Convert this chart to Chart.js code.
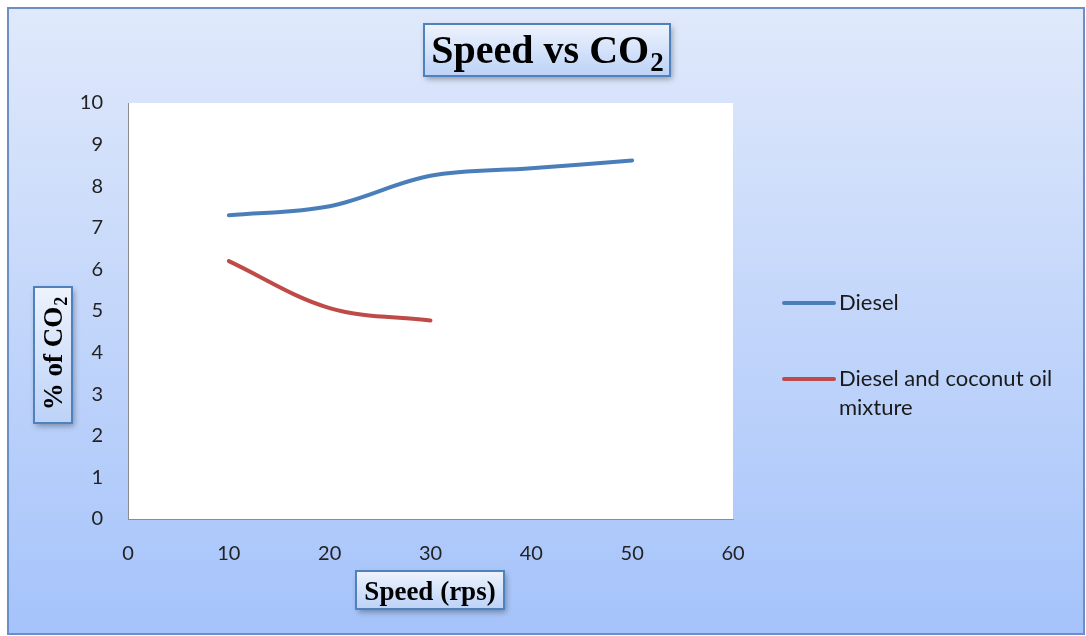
<!DOCTYPE html>
<html>
<head>
<meta charset="utf-8">
<script src="https://cdn.jsdelivr.net/npm/chart.js@4"></script>
<style>
  html, body { margin: 0; padding: 0; background: #ffffff; }
  #wrap { width: 1086px; height: 636px; }
</style>
</head>
<body>
<div id="wrap"><canvas id="c" width="1086" height="636"></canvas></div>
<script>
// Speed (rps) against % of CO2 in the exhaust
const dieselSpeed = [10, 20, 30, 40, 50];
const dieselCO2 = [7.3, 7.52, 8.25, 8.43, 8.62];
const blendSpeed = [10, 20, 30];
const blendCO2 = [6.2, 5.07, 4.77];
const seriesNames = ['Diesel', 'Diesel and coconut oil mixture'];
const xTicks = [0, 10, 20, 30, 40, 50, 60];
const yTicks = [0, 1, 2, 3, 4, 5, 6, 7, 8, 9, 10];

const toPoints = (xs, ys) => xs.map((x, i) => ({ x: x, y: ys[i] }));

const SERIF = '"Liberation Serif", "DejaVu Serif", serif';
const SANS = 'Lato, "Open Sans", "Liberation Sans", sans-serif';

function drawBox(ctx, x, y, w, h) {
  ctx.save();
  ctx.shadowColor = 'rgba(0,0,0,0.35)';
  ctx.shadowBlur = 6;
  ctx.shadowOffsetX = 2;
  ctx.shadowOffsetY = 3;
  const g = ctx.createLinearGradient(0, y, 0, y + h);
  g.addColorStop(0, '#eef3fd');
  g.addColorStop(1, '#bcd2f7');
  ctx.fillStyle = g;
  ctx.fillRect(x, y, w, h);
  ctx.restore();
  ctx.save();
  ctx.strokeStyle = '#4f81bd';
  ctx.lineWidth = 2;
  ctx.strokeRect(x, y, w, h);
  ctx.restore();
}

// text with a subscript "2", centred on (cx, cy)
function drawSubText(ctx, main, sub, cx, cy, size) {
  ctx.save();
  ctx.fillStyle = '#000';
  ctx.textBaseline = 'alphabetic';
  ctx.font = 'bold ' + size + 'px ' + SERIF;
  const wMain = ctx.measureText(main).width;
  const subSize = Math.round(size * 0.68);
  ctx.font = 'bold ' + subSize + 'px ' + SERIF;
  const wSub = ctx.measureText(sub).width;
  const x0 = cx - (wMain + wSub) / 2;
  const base = cy + size * 0.33;
  ctx.font = 'bold ' + size + 'px ' + SERIF;
  ctx.textAlign = 'left';
  ctx.fillText(main, x0, base);
  ctx.font = 'bold ' + subSize + 'px ' + SERIF;
  ctx.fillText(sub, x0 + wMain + 1, base + size * 0.2);
  ctx.restore();
}

const decor = {
  id: 'decor',
  beforeDraw(chart) {
    const ctx = chart.ctx;
    const W = chart.width, H = chart.height;
    ctx.save();
    ctx.fillStyle = '#ffffff';
    ctx.fillRect(0, 0, W, H);
    // chart area background
    const g = ctx.createLinearGradient(0, 8, 0, 634);
    g.addColorStop(0, '#e0e9fb');
    g.addColorStop(1, '#a5c3fa');
    ctx.fillStyle = g;
    ctx.fillRect(8, 8, 1076, 626);
    ctx.strokeStyle = '#6a8fc7';
    ctx.lineWidth = 2;
    ctx.strokeRect(8, 8, 1076, 626);
    // plot area
    const a = chart.chartArea;
    ctx.fillStyle = '#ffffff';
    ctx.fillRect(a.left, a.top, a.right - a.left, a.bottom - a.top);
    ctx.restore();
  },
  afterDraw(chart) {
    const ctx = chart.ctx;
    // title
    drawBox(ctx, 424, 24, 246, 52);
    drawSubText(ctx, 'Speed vs CO', '2', 547, 50, 40);
    // x axis title
    drawBox(ctx, 356, 571, 148, 38);
    ctx.save();
    ctx.fillStyle = '#000';
    ctx.font = 'bold 27px ' + SERIF;
    ctx.textAlign = 'center';
    ctx.textBaseline = 'alphabetic';
    ctx.fillText('Speed (rps)', 430, 600);
    ctx.restore();
    // y axis title
    drawBox(ctx, 34, 287, 38, 136);
    ctx.save();
    ctx.translate(53, 354);
    ctx.rotate(-Math.PI / 2);
    drawSubText(ctx, '% of CO', '2', 0, 0, 27);
    ctx.restore();
    // legend
    ctx.save();
    ctx.font = '22px ' + SANS;
    ctx.fillStyle = '#1a1a1a';
    ctx.textAlign = 'left';
    ctx.textBaseline = 'middle';
    ctx.lineCap = 'round';
    const items = [
      { y: 303, lines: [seriesNames[0]] },
      { y: 379, lines: ['Diesel and coconut oil', 'mixture'] }
    ];
    chart.data.datasets.forEach((ds, i) => {
      const it = items[i];
      ctx.strokeStyle = ds.borderColor;
      ctx.lineWidth = 4;
      ctx.beginPath();
      ctx.moveTo(784, it.y);
      ctx.lineTo(834, it.y);
      ctx.stroke();
      it.lines.forEach((t, j) => ctx.fillText(t, 839, it.y + j * 29));
    });
    ctx.restore();
  }
};

new Chart(document.getElementById('c'), {
  type: 'line',
  data: {
    datasets: [
      {
        label: seriesNames[0],
        data: toPoints(dieselSpeed, dieselCO2),
        borderColor: '#4a7ebb',
        borderWidth: 4,
        pointRadius: 0,
        tension: 0.35,
        fill: false,
        borderCapStyle: 'round'
      },
      {
        label: seriesNames[1],
        data: toPoints(blendSpeed, blendCO2),
        borderColor: '#be4b48',
        borderWidth: 4,
        pointRadius: 0,
        tension: 0.35,
        fill: false,
        borderCapStyle: 'round'
      }
    ]
  },
  options: {
    responsive: false,
    animation: false,
    devicePixelRatio: 1,
    layout: { padding: { top: 103, right: 353, bottom: 0, left: 0 } },
    plugins: { legend: { display: false }, title: { display: false }, tooltip: { enabled: false } },
    scales: {
      x: {
        type: 'linear',
        min: 0,
        max: 60,
        afterBuildTicks(scale) { scale.ticks = xTicks.map(v => ({ value: v })); },
        afterFit(scale) { scale.height = 117; },
        ticks: { font: { family: SANS, size: 20 }, color: '#222', padding: 23, maxRotation: 0 },
        grid: { display: false, drawTicks: false },
        border: { display: true, color: '#8c8c8c', width: 1 }
      },
      y: {
        min: 0,
        max: 10,
        afterBuildTicks(scale) { scale.ticks = yTicks.map(v => ({ value: v })); },
        afterFit(scale) { scale.width = 128; },
        ticks: { font: { family: SANS, size: 20 }, color: '#222', padding: 25 },
        grid: { display: false, drawTicks: false },
        border: { display: true, color: '#8c8c8c', width: 1 }
      }
    }
  },
  plugins: [decor]
});
</script>
</body>
</html>
